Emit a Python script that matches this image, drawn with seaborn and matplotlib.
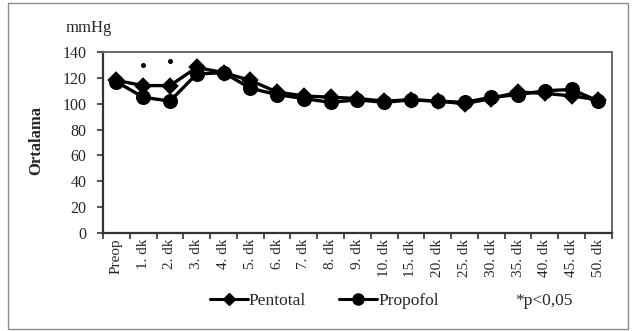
import matplotlib
matplotlib.use("Agg")
import matplotlib.pyplot as plt
from matplotlib.lines import Line2D
from matplotlib.patches import Rectangle
import seaborn as sns
import pandas as pd
import numpy as np

# Mean arterial pressure (mmHg) over time
times = ["Preop", "1. dk", "2. dk", "3. dk", "4. dk", "5. dk", "6. dk", "7. dk",
         "8. dk", "9. dk", "10. dk", "15. dk", "20. dk", "25. dk", "30. dk",
         "35. dk", "40. dk", "45. dk", "50. dk"]
pentotal = [118, 114, 114, 128, 124, 118, 109, 106, 105, 104, 102, 103, 102,
            100, 104, 109, 108, 106, 103]
propofol = [117, 105, 102, 123, 124, 112, 107, 104, 101, 103, 101, 103, 102,
            101, 105, 107, 110, 111, 102]
groups = ["Pentotal", "Propofol"]
sig_times = ["1. dk", "2. dk"]
sig_marks = [130, 133]
y_ticks = [0, 20, 40, 60, 80, 100, 120, 140]

df = pd.DataFrame({
    "time": times * 2,
    "value": pentotal + propofol,
    "group": [groups[0]] * len(times) + [groups[1]] * len(times),
})

sns.set_theme(style="white")
plt.rcParams["font.family"] = ["Liberation Serif", "DejaVu Serif"]

fig = plt.figure(figsize=(6.36, 3.31), dpi=100)
ax = fig.add_axes([0.162, 0.296, 0.800, 0.547])

sns.pointplot(data=df, x="time", y="value", hue="group", order=times,
              hue_order=groups, palette=["black", "black"],
              markers=["D", "o"], linestyles=["-", "-"], errorbar=None,
              markersize=7, linewidth=2.4, ax=ax, legend=False)
for coll, ms in zip(ax.lines, [7, 9]):
    coll.set_markersize(ms)

# significance markers
sig_x = [times.index(t) for t in sig_times]
ax.plot(sig_x, sig_marks, linestyle="none", marker="o", markersize=2.6,
        color="black")

ax.set_xlim(-0.5, len(times) - 0.5)
ax.set_ylim(0, 140)
ax.set_yticks(y_ticks)
ax.set_yticklabels([str(v) for v in y_ticks], fontsize=11.5)
ax.set_xticks(range(len(times)))
ax.set_xticklabels(times, rotation=90, fontsize=11)
ax.set_xticks(np.arange(-0.5, len(times), 1.0), minor=True)
ax.tick_params(axis="x", which="major", length=0, pad=4)
ax.tick_params(axis="x", which="minor", length=4, width=1.2, color="#333333",
               direction="out", bottom=True)
ax.tick_params(axis="y", length=4, width=1.2, color="#333333", left=True,
               direction="out", pad=8)
ax.set_xlabel("")
ax.set_ylabel("")

for side in ["left", "bottom"]:
    ax.spines[side].set_color("#333333")
    ax.spines[side].set_linewidth(1.6)
for side in ["top", "right"]:
    ax.spines[side].set_color("#666666")
    ax.spines[side].set_linewidth(1.4)

fig.text(0.057, 0.575, "Ortalama", rotation=90, ha="center", va="center",
         fontsize=12, fontweight="bold")
fig.text(0.103, 0.915, "mmHg", ha="left", va="center", fontsize=12)

handles = [
    Line2D([], [], color="black", marker="D", markersize=6, linewidth=2.2),
    Line2D([], [], color="black", marker="o", markersize=8, linewidth=2.2),
]
fig.legend(handles, groups, loc="center", bbox_to_anchor=(0.51, 0.09),
           ncol=2, frameon=False, fontsize=12.5, handlelength=2.2,
           handletextpad=0.05, columnspacing=1.9)
fig.text(0.855, 0.09, "*p<0,05", ha="center", va="center", fontsize=12.5)

fig.patches.append(Rectangle((0.0126, 0.006), 0.975, 0.985,
                             transform=fig.transFigure, fill=False,
                             edgecolor="#8a8a8a", linewidth=1.0))

fig.savefig("out.png", dpi=100)
